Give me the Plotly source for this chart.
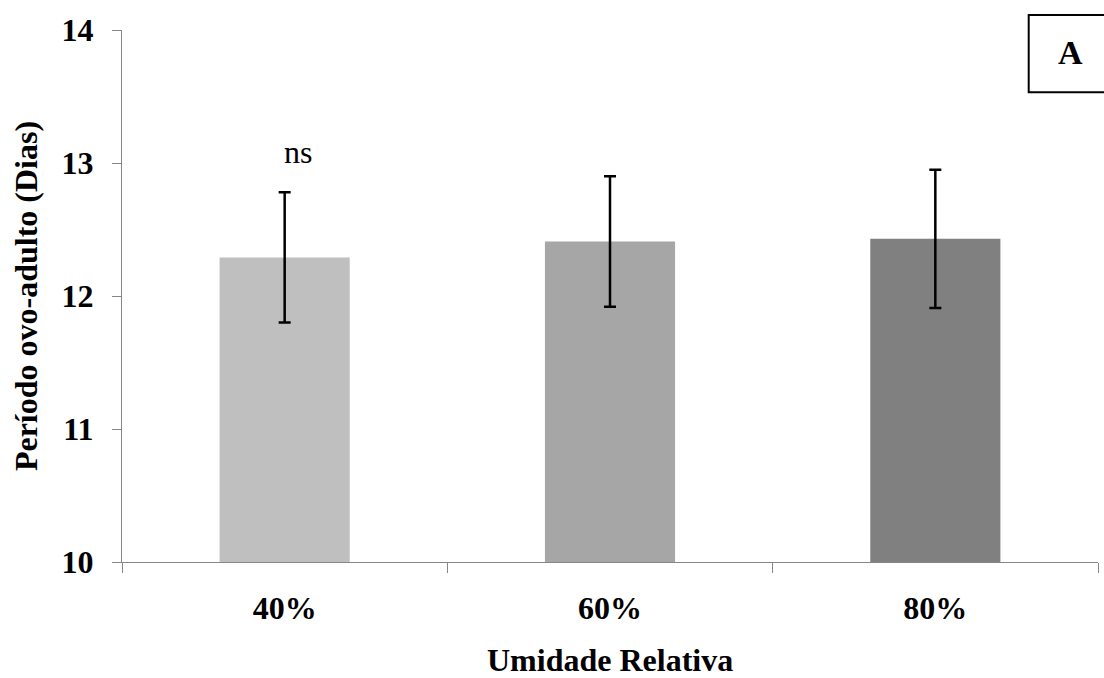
import plotly.graph_objects as go

categories = ["40%", "60%", "80%"]
means = [12.29, 12.41, 12.43]
errors = [0.49, 0.49, 0.52]
bar_colors = ["#BFBFBF", "#A6A6A6", "#808080"]
y_ticks = [10, 11, 12, 13, 14]

FONT = "Liberation Serif, Times New Roman, serif"

fig = go.Figure()
fig.add_trace(go.Bar(
    x=categories, y=means,
    marker=dict(color=bar_colors, line=dict(width=0)),
    width=0.40,
    error_y=dict(type="data", array=errors, visible=True,
                 color="black", thickness=2.5, width=6),
    showlegend=False,
))

fig.update_layout(
    width=1104, height=678,
    margin=dict(l=122, r=6, t=30, b=116),
    paper_bgcolor="white", plot_bgcolor="white",
    font=dict(family=FONT, color="black", size=32),
    xaxis=dict(
        range=[-0.5, 2.5], tickson="boundaries",
        ticks="outside", ticklen=10, tickcolor="#868686", tickwidth=1,
        showline=True, linecolor="#868686", linewidth=1,
        showgrid=False, zeroline=False, automargin=False,
        tickfont=dict(family=FONT, size=32, color="black", weight="bold"),
        ticklabelstandoff=18,
    ),
    yaxis=dict(
        range=[10, 14], tickvals=y_ticks,
        ticks="outside", ticklen=9, tickcolor="#868686", tickwidth=1,
        showline=True, linecolor="#868686", linewidth=1,
        showgrid=False, zeroline=False,
        tickfont=dict(family=FONT, size=32, color="black", weight="bold"),
        ticklabelstandoff=12,
        title=dict(text="<b>Período ovo-adulto (Dias)</b>", standoff=14,
                   font=dict(family=FONT, size=32, color="black")),
    ),
    bargap=0.6,
)

fig.add_annotation(x=0.5, y=-0.1842, xref="paper", yref="paper",
                   text="<b>Umidade Relativa</b>", showarrow=False,
                   xanchor="center", yanchor="middle", borderpad=0,
                   font=dict(family=FONT, size=32, color="black"))

fig.add_annotation(x="40%", y=13.08, text="ns", showarrow=False,
                   xref="x", yref="y", yanchor="middle", xshift=13,
                   font=dict(family=FONT, size=32, color="black"))

fig.add_shape(type="rect", xref="paper", yref="paper",
              x0=0.929, x1=1.01, y0=0.883, y1=1.028,
              line=dict(color="black", width=2), fillcolor="white")
fig.add_annotation(x=0.972, y=0.957, xref="paper", yref="paper",
                   text="<b>A</b>", showarrow=False,
                   xanchor="center", yanchor="middle",
                   font=dict(family=FONT, size=34, color="black"))

fig.write_html("out.html")
